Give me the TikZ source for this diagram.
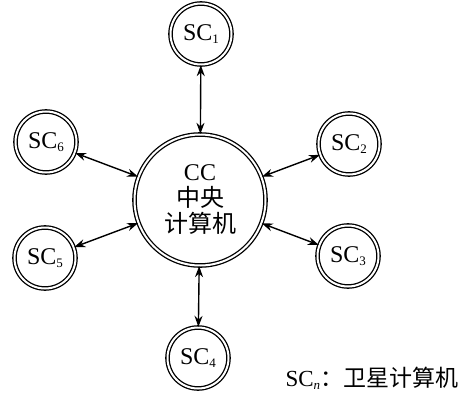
\documentclass[tikz,border=0pt]{standalone}
\usepackage{fontspec}
\setmainfont{Liberation Serif}
\newfontfamily\cjk{Noto Sans CJK SC}
\usetikzlibrary{arrows.meta}

\newcommand{\sub}[1]{\raisebox{-0.3ex}{\fontsize{13}{13}\selectfont#1}}

\tikzset{
  sat/.style={circle,draw,double,double distance=2pt,line width=1.3pt,
    minimum size=61pt,inner sep=0pt,font=\fontsize{24}{26}\selectfont},
  hub/.style={sat,minimum size=131pt,align=center},
  link/.style={{Stealth[length=11pt,width=8pt]}-{Stealth[length=11pt,width=8pt]},line width=1.4pt}
}

\begin{document}
\begin{tikzpicture}[x=1pt,y=1pt]
		\useasboundingbox (0,0) rectangle (474,392);
		% central computer
		\node[hub] (cc) at (200,192) {CC\\{\cjk 中央}\\{\cjk 计算机}};
		% satellite computers around it
		\foreach \n/\x/\y in {1/201/358, 2/349/248, 3/348/136, 4/198/34, 5/45/134, 6/46/250}{
			\node[sat] (sc\n) at (\x,\y) {SC\sub{\n}};
			\draw[link] (cc) -- (sc\n);
		}
		\node[anchor=west,font=\fontsize{23}{25}\selectfont] (key) at (282,14) {SC\sub{\textit{n}}{\cjk ：卫星计算机}};
\end{tikzpicture}
\end{document}
